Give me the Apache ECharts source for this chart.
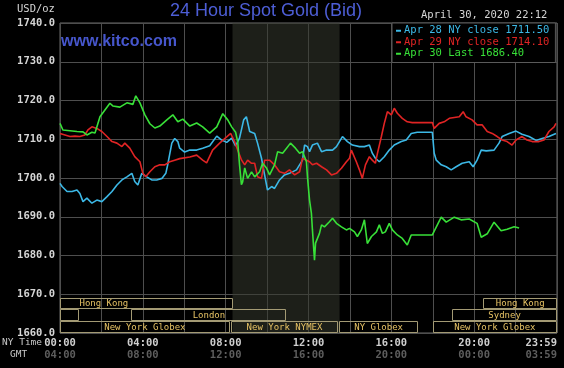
<!DOCTYPE html>
<html><head><meta charset="utf-8">
<script src="https://cdn.jsdelivr.net/npm/echarts@6/dist/echarts.min.js"></script>
<style>html,body{margin:0;padding:0;background:#000}#c{width:564px;height:368px}</style>
</head><body><div id="c"></div>
<script>
// time in hours (NY time), value in USD/oz
const apr28 = [[0,1698.6],[0.10,1697.8],[0.34,1696.5],[0.58,1696.5],[0.82,1696.9],[0.96,1696.0],[1.11,1693.9],[1.30,1694.8],[1.54,1693.5],[1.78,1694.3],[2.02,1693.9],[2.27,1695.2],[2.51,1696.5],[2.75,1698.2],[2.99,1699.5],[3.23,1700.3],[3.47,1701.2],[3.61,1699.1],[3.76,1698.2],[3.95,1701.2],[4.19,1700.3],[4.43,1699.5],[4.67,1699.5],[4.92,1699.9],[5.11,1701.2],[5.20,1703.4],[5.40,1709.0],[5.54,1710.2],[5.69,1709.4],[5.78,1707.7],[6.02,1706.7],[6.27,1707.2],[6.60,1707.2],[6.89,1707.7],[7.23,1708.3],[7.57,1710.8],[7.81,1709.8],[8.05,1709.2],[8.29,1710.3],[8.48,1708.3],[8.67,1710.3],[8.87,1715.0],[9.00,1715.8],[9.16,1712.0],[9.40,1711.5],[9.54,1709.0],[9.73,1705.1],[9.88,1700.8],[10.02,1696.9],[10.22,1697.8],[10.36,1697.3],[10.60,1699.5],[10.84,1700.8],[11.08,1701.2],[11.42,1702.1],[11.71,1704.6],[11.81,1708.5],[11.95,1708.1],[12.05,1706.8],[12.19,1708.5],[12.43,1709.0],[12.63,1706.8],[12.87,1707.2],[13.16,1707.2],[13.35,1708.1],[13.64,1710.7],[13.88,1709.4],[14.12,1708.5],[14.46,1708.1],[14.70,1708.1],[14.94,1708.5],[15.08,1706.4],[15.23,1705.1],[15.42,1704.2],[15.66,1705.5],[15.90,1707.2],[16.14,1708.5],[16.48,1709.4],[16.72,1709.8],[16.96,1711.5],[17.25,1711.8],[17.98,1711.8],[18.07,1706.4],[18.17,1704.6],[18.41,1703.4],[18.65,1702.9],[18.89,1702.1],[19.13,1702.9],[19.42,1703.8],[19.76,1704.2],[19.95,1702.9],[20.14,1704.6],[20.34,1707.2],[20.58,1707.0],[20.96,1707.2],[21.20,1709.0],[21.35,1710.7],[21.69,1711.5],[22.02,1712.1],[22.31,1711.3],[22.65,1710.7],[22.99,1709.7],[23.28,1710.2],[23.61,1710.7],[23.95,1711.5]];
const apr29 = [[0,1711.5],[0.24,1711.1],[0.48,1710.7],[0.72,1710.8],[0.96,1710.7],[1.20,1711.1],[1.35,1712.4],[1.54,1713.2],[1.78,1712.8],[2.02,1712.0],[2.27,1710.7],[2.51,1709.4],[2.75,1709.0],[2.99,1708.1],[3.13,1709.0],[3.37,1707.7],[3.61,1705.5],[3.86,1704.2],[4.00,1701.2],[4.14,1700.3],[4.34,1701.6],[4.58,1702.9],[4.82,1703.4],[5.06,1703.4],[5.30,1704.2],[5.54,1704.6],[5.78,1705.0],[6.27,1705.4],[6.60,1705.9],[6.89,1704.6],[7.08,1703.9],[7.37,1707.2],[7.71,1709.0],[8.05,1710.6],[8.24,1711.5],[8.43,1709.4],[8.58,1707.2],[8.77,1704.6],[8.92,1703.4],[9.06,1704.6],[9.25,1703.8],[9.40,1703.8],[9.54,1700.3],[9.73,1699.9],[9.88,1704.6],[10.12,1704.6],[10.36,1703.4],[10.60,1701.6],[10.84,1701.2],[11.08,1702.1],[11.33,1700.8],[11.57,1701.6],[11.71,1705.1],[11.90,1704.6],[12.05,1704.2],[12.19,1703.4],[12.39,1703.8],[12.63,1702.9],[12.87,1702.1],[13.11,1700.8],[13.35,1701.2],[13.59,1702.5],[13.83,1704.2],[13.98,1705.1],[14.07,1707.2],[14.31,1704.2],[14.46,1702.1],[14.60,1699.9],[14.75,1703.4],[14.94,1705.5],[15.08,1704.6],[15.23,1703.8],[15.33,1706.4],[15.52,1710.7],[15.66,1714.1],[15.81,1717.1],[16.00,1716.3],[16.14,1718.0],[16.29,1716.7],[16.53,1715.4],[16.77,1714.5],[17.01,1714.3],[17.98,1714.3],[18.07,1712.8],[18.31,1714.1],[18.55,1714.5],[18.80,1715.4],[19.04,1715.6],[19.28,1715.8],[19.47,1717.1],[19.61,1715.8],[19.90,1715.0],[20.14,1713.7],[20.39,1713.7],[20.63,1712.0],[20.87,1711.5],[21.11,1710.7],[21.35,1709.8],[21.59,1709.4],[21.83,1708.5],[22.02,1709.8],[22.31,1710.7],[22.55,1709.8],[22.80,1709.4],[23.13,1709.4],[23.37,1709.8],[23.61,1712.0],[23.86,1713.2],[23.95,1714.1]];
const apr30 = [[0,1714.1],[0.14,1712.4],[0.48,1712.2],[0.82,1712.0],[1.11,1711.9],[1.30,1711.1],[1.54,1711.8],[1.69,1711.6],[1.93,1715.8],[2.41,1719.3],[2.55,1718.6],[2.89,1718.3],[3.23,1719.4],[3.52,1719.0],[3.66,1721.2],[3.86,1719.4],[4.10,1716.3],[4.34,1714.0],[4.58,1712.9],[4.82,1713.4],[5.16,1715.0],[5.45,1716.3],[5.69,1714.5],[5.93,1715.2],[6.27,1713.4],[6.60,1714.2],[6.89,1713.2],[7.23,1711.6],[7.57,1713.2],[7.86,1716.6],[8.10,1715.0],[8.29,1713.2],[8.48,1711.8],[8.58,1709.4],[8.67,1703.4],[8.76,1698.3],[8.82,1699.0],[8.92,1702.6],[9.06,1699.9],[9.25,1701.6],[9.40,1700.3],[9.64,1701.6],[9.78,1703.8],[9.98,1702.5],[10.12,1700.8],[10.36,1703.4],[10.51,1706.8],[10.75,1706.4],[10.94,1707.7],[11.13,1709.0],[11.37,1707.7],[11.57,1706.4],[11.71,1706.8],[11.81,1705.5],[11.90,1704.2],[11.95,1700.3],[12.05,1694.3],[12.14,1690.9],[12.19,1686.6],[12.29,1678.8],[12.34,1683.2],[12.43,1683.6],[12.53,1685.7],[12.63,1687.9],[12.77,1687.4],[13.01,1688.7],[13.16,1689.6],[13.35,1688.3],[13.59,1687.4],[13.83,1686.6],[13.98,1687.0],[14.22,1686.1],[14.36,1684.9],[14.55,1686.6],[14.70,1689.2],[14.84,1683.1],[15.04,1684.9],[15.28,1686.1],[15.42,1687.9],[15.57,1685.7],[15.71,1686.1],[15.90,1688.3],[16.05,1686.6],[16.29,1685.3],[16.53,1684.4],[16.77,1682.7],[16.96,1685.3],[17.98,1685.3],[18.41,1689.9],[18.65,1688.6],[19.04,1689.9],[19.37,1689.2],[19.76,1689.4],[20.14,1688.3],[20.34,1684.7],[20.63,1685.6],[20.96,1688.6],[21.30,1686.4],[21.59,1686.8],[21.93,1687.4],[22.17,1687.1]];

const seriesNames = ['Apr 28 NY close 1711.50', 'Apr 29 NY close 1714.10', 'Apr 30 Last 1686.40'];
const hourTicks = [0, 4, 8, 12, 16, 20, 24];

// trading sessions: start hour, end hour, row, name
const sessionStart = [-4.1, 20.45, 0, 3.45, 18.94, 0, 8.25, 13.48, 18.0];
const sessionEnd   = [8.34, 24, 0.93, 10.93, 24, 8.2, 13.43, 17.29, 24];
const sessionRow   = [0, 0, 1, 1, 1, 2, 2, 2, 2];
const sessionName  = ['Hong Kong', 'Hong Kong', '', 'London', 'Sydney', 'New York Globex', 'New York NYMEX', 'NY Globex', 'New York Globex'];
const nymexWindow = [8.33, 13.5];

const ROW_BOUNDS = [1669, 1666.2, 1663.2, 1660];
const sessionData = sessionStart.map((s, i) => [s, sessionEnd[i], sessionRow[i], sessionName[i]]);

const MONO = 'DejaVu Sans Mono';
const colors = ['#3cb8e6', '#e02424', '#38e038'];
const pad = n => (n < 10 ? '0' : '') + n;

const chart = echarts.init(document.getElementById('c'), null, {renderer: 'canvas'});
chart.setOption({
  backgroundColor: '#000',
  animation: false,
  title: [
    {text: '24 Hour Spot Gold (Bid)', left: 170, top: 2, padding: 0,
     textStyle: {fontFamily: 'Liberation Sans', fontSize: 18, fontWeight: 'normal', color: '#4d5ed6'}},
    {text: 'www.kitco.com', left: 61, top: 34, padding: 0,
     textStyle: {fontFamily: 'Liberation Sans', fontSize: 16, fontWeight: 'bold', color: '#4656cc'}},
    {text: 'April 30, 2020 22:12', left: 421, top: 10, padding: 0,
     textStyle: {fontFamily: MONO, fontSize: 10.5, fontWeight: 'normal', color: '#d6d6d6'}},
    {text: 'USD/oz', left: 17, top: 4, padding: 0,
     textStyle: {fontFamily: MONO, fontSize: 10.5, fontWeight: 'normal', color: '#d6d6d6'}},
    {text: 'NY Time', left: 2, top: 338, padding: 0,
     textStyle: {fontFamily: MONO, fontSize: 9.5, fontWeight: 'normal', color: '#c8c8c8'}},
    {text: 'GMT', left: 10, top: 350, padding: 0,
     textStyle: {fontFamily: MONO, fontSize: 9.5, fontWeight: 'normal', color: '#c8c8c8'}}
  ],
  legend: {
    orient: 'vertical', left: 392, top: 23, padding: [2, 6, 3, 4], itemGap: 0,
    backgroundColor: '#000', borderColor: '#5a5a5a', borderWidth: 1,
    icon: 'rect', itemWidth: 5, itemHeight: 2,
    selectedMode: false,
    textStyle: {fontFamily: MONO, fontSize: 10.5, lineHeight: 11.5, padding: [0, 0, 0, -2]},
    data: seriesNames.map((n, i) => ({name: n, textStyle: {color: colors[i]}}))
  },
  grid: {left: 60, right: 7, top: 23, bottom: 35, show: true, borderColor: '#6a6a6a', borderWidth: 1, backgroundColor: 'transparent'},
  xAxis: [
    {type: 'value', min: 0, max: 24, interval: 2, position: 'bottom',
     axisLine: {show: false}, axisTick: {show: false},
     splitLine: {show: true, lineStyle: {color: '#4e4e4e', width: 1}},
     axisLabel: {margin: 5, fontFamily: MONO, fontSize: 10.5, fontWeight: 'bold', color: '#cfcfcf', alignMaxLabel: 'right',
       formatter: v => v === 24 ? '23:59' : (hourTicks.indexOf(v) >= 0 ? pad(v) + ':00' : '')}},
    {type: 'value', min: 0, max: 24, interval: 2, position: 'bottom', gridIndex: 0,
     axisLine: {show: false}, axisTick: {show: false}, splitLine: {show: false},
     axisLabel: {margin: 17, fontFamily: MONO, fontSize: 10.5, fontWeight: 'bold', color: '#5e5e5e', alignMaxLabel: 'right',
       formatter: v => v === 24 ? '03:59' : (hourTicks.indexOf(v) >= 0 ? pad((v + 4) % 24) + ':00' : '')}}
  ],
  yAxis: {type: 'value', min: 1660, max: 1740, interval: 10,
    axisLine: {show: false}, axisTick: {show: false},
    splitLine: {show: true, lineStyle: {color: '#4e4e4e', width: 1}},
    axisLabel: {margin: 5, fontFamily: MONO, fontSize: 10.5, fontWeight: 'bold', color: '#d6d6d6', formatter: v => v.toFixed(1)}},
  series: [
    {type: 'custom', name: 'sessions', xAxisIndex: 0, data: sessionData, clip: true, silent: true, z: 1,
     encode: {x: [0, 1], y: 2},
     renderItem: (params, api) => {
       const s = api.value(0), e = api.value(1), r = api.value(2), label = sessionName[params.dataIndex];
       const p0 = api.coord([Math.max(s, 0), ROW_BOUNDS[r]]);
       const p1 = api.coord([Math.min(e, 24), ROW_BOUNDS[r + 1]]);
       const mid = api.coord([(s + e) / 2, (ROW_BOUNDS[r] + ROW_BOUNDS[r + 1]) / 2]);
       const x0 = Math.round(p0[0]) + 0.5, y0 = Math.round(p0[1]) + 0.5;
       const x1 = Math.round(p1[0]) - 0.5, y1 = Math.round(p1[1]) - 0.5;
       return {type: 'group', children: [
         {type: 'rect', shape: {x: x0, y: y0, width: x1 - x0, height: y1 - y0},
          style: {fill: 'rgba(0,0,0,0)', stroke: '#a39a74', lineWidth: 1}},
         {type: 'text', x: mid[0], y: mid[1] + 0.5,
          style: {text: label, fill: '#e6c264', font: '9px "DejaVu Sans Mono"', align: 'center', verticalAlign: 'middle'}}
       ]};
     }},
    {type: 'line', name: seriesNames[0], data: apr28, symbol: 'none', z: 3,
     lineStyle: {color: colors[0], width: 1.6}, itemStyle: {color: colors[0]},
     markArea: {silent: true, itemStyle: {color: 'rgba(52,56,46,0.55)'},
       data: [[{xAxis: nymexWindow[0]}, {xAxis: nymexWindow[1]}]]}},
    {type: 'line', name: seriesNames[1], data: apr29, symbol: 'none', z: 4,
     lineStyle: {color: colors[1], width: 1.6}, itemStyle: {color: colors[1]}},
    {type: 'line', name: seriesNames[2], data: apr30, symbol: 'none', z: 5,
     lineStyle: {color: colors[2], width: 1.6}, itemStyle: {color: colors[2]}}
  ]
});
</script></body></html>
